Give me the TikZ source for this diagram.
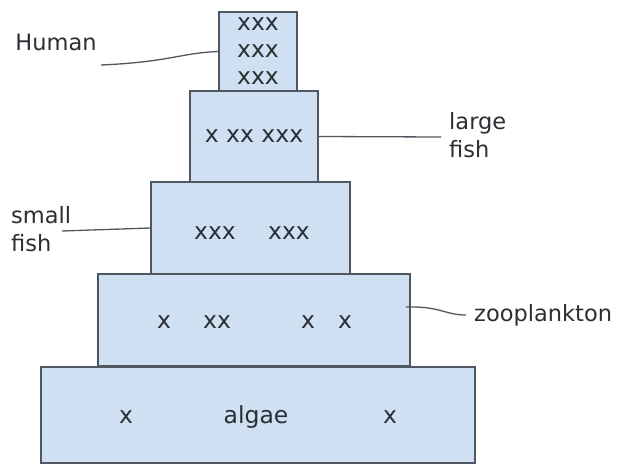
\documentclass[tikz,border=0pt]{standalone}
\usepackage{fontspec}
\setmainfont{DejaVu Sans}
\usepackage{xcolor}
\definecolor{layer}{HTML}{CFE0F2}
\definecolor{edge}{HTML}{4F5861}
\definecolor{ink}{HTML}{2A2F34}
\usepackage{tikz}
\usetikzlibrary{positioning, calc}

\begin{document}
\begin{tikzpicture}[
  x=1pt, y=-1pt,
  level/.style={rectangle, draw=edge, fill=layer, line width=1.6pt, inner sep=0pt},
  tag/.style={font=\fontsize{22.5}{28}\selectfont, text=ink, align=left, inner sep=0pt},
  xmark/.style={font=\fontsize{23.5}{27}\selectfont, text=ink, align=center, inner sep=0pt},
  lead/.style={draw=edge, line width=1.3pt}
]
  \useasboundingbox[fill=white] (0,0) rectangle (618,466);

  % the five layers, bottom to top
  \node[level, minimum width=434pt, minimum height=96pt] (algae) at (258,415) {};
  \node[level, minimum width=312pt, minimum height=92pt] (zoo)   at (254,320) {};
  \node[level, minimum width=199pt, minimum height=92pt] (small) at (250.5,228) {};
  \node[level, minimum width=128pt, minimum height=91pt] (large) at (254,136.5) {};
  \node[level, minimum width=78pt,  minimum height=79pt] (top)   at (258,51.5) {};

  % contents of each layer
  \node[xmark] (topx) at (top) {xxx\\xxx\\xxx};
  \node[xmark] (largex) at (large) {x xx xxx};
  \foreach \x/\n in {215/1, 289/2}
    \node[xmark] (smallx\n) at (\x,233) {xxx};
  \foreach \x/\txt/\n in {164/x/1, 217/xx/2, 308/x/3, 345/x/4}
    \node[xmark] (zoox\n) at (\x,322) {\txt};
  \node[xmark] (algaex1) at (126,417) {x};
  \node[xmark] (algaet)  at (256,417) {algae};
  \node[xmark] (algaex2) at (390,417) {x};

  % side labels
  \node[tag] (human) at (56,42) {Human};
  \node[tag, anchor=west] (largefish) at (449,135) {large\\fish};
  \node[tag, anchor=west] (smallfish) at (11,229) {small\\fish};
  \node[tag, anchor=west] (zooplankton) at (474,315) {zooplankton};

  % leader lines
  \coordinate (hu) at (101,65);
  \coordinate (lf) at (441,137);
  \coordinate (sf) at (62,231);
  \coordinate (zp) at (466,315);
  \draw[lead] (hu) .. controls (170,62) and (180,53) .. (top.west);
  \draw[lead] (large.east) -- (lf);
  \draw[lead] (sf) -- (small.west);
  \draw[lead] ([shift={(-5,-13)}]zoo.east) .. controls (440,306) and (445,315) .. (zp);
\end{tikzpicture}
\end{document}
